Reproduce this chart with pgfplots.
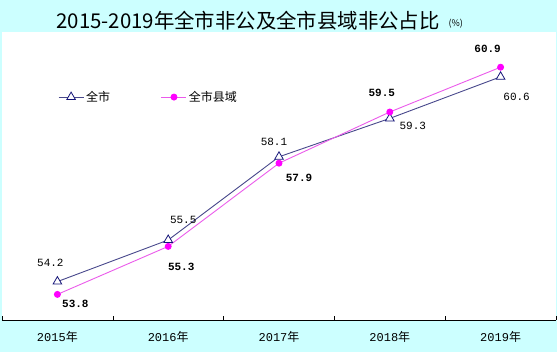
\documentclass[border=0pt]{standalone}
\usepackage{pgfplots}
\pgfplotsset{compat=1.18}
\usepackage{fontspec}
\setmainfont{Noto Sans CJK SC}
\newfontfamily\cjk{Noto Sans CJK SC}
\newfontfamily\mono{Liberation Mono}
\definecolor{bgcyan}{RGB}{204,255,255}
\definecolor{navyline}{RGB}{72,72,140}
\definecolor{navymark}{RGB}{20,20,120}
\definecolor{pinkline}{RGB}{235,90,235}
\definecolor{pinkmark}{RGB}{255,0,255}
\begin{document}
\begin{tikzpicture}
\fill[bgcyan] (0,0) rectangle (557bp,352bp);
\node[anchor=west,font=\fontsize{20.4bp}{24bp}\selectfont] at (53bp,331bp) {2015-2019年全市非公及全市县域非公占比};
\node[anchor=west,font=\fontsize{9bp}{11bp}\selectfont] at (445bp,328bp) {(\%)};
\begin{axis}[
  at={(2bp,32bp)}, anchor=south west,
  scale only axis, width=554bp, height=288bp,
  xmin=-0.5, xmax=4.5, ymin=53, ymax=62,
  axis x line=bottom, axis y line=none,
  axis line style={-, black, line width=0.6pt},
  axis background/.style={fill=white},
  xtick={0,1,2,3,4},
  xticklabels={{\mono 2015}年,{\mono 2016}年,{\mono 2017}年,{\mono 2018}年,{\mono 2019}年},
  major tick length=0pt,
  minor xtick={-0.5,0.5,1.5,2.5,3.5,4.5},
  minor tick length=4bp,
  tick align=inside,
  tick style={black, line width=0.6pt},
  xticklabel style={font=\fontsize{12bp}{14bp}\selectfont, yshift=-8bp},
  clip=false,
  legend style={at={(0.101,0.774)}, anchor=west, draw=none, fill=none, inner sep=0pt,
    font=\fontsize{12bp}{14bp}\selectfont,
    /tikz/every even column/.append style={column sep=49bp}},
  legend columns=2,
  legend image code/.code={\draw[mark repeat=2,mark phase=2,#1] plot coordinates {(0bp,0bp)(12.5bp,0bp)(25bp,0bp)};},
]
\addplot[navyline, line width=0.9pt, mark=triangle*, mark size=5bp,
  mark options={fill=white, draw=navymark, line width=0.8pt}]
  coordinates {(0,54.2) (1,55.5) (2,58.1) (3,59.3) (4,60.6)};
\addlegendentry{全市}
\addplot[pinkline, line width=0.9pt, mark=*, mark size=3bp,
  mark options={fill=pinkmark, draw=pinkmark}]
  coordinates {(0,53.8) (1,55.3) (2,57.9) (3,59.5) (4,60.9)};
\addlegendentry{全市县域}
% labels for 全市
\begin{scope}[every node/.style={font=\mono\fontsize{11bp}{13bp}\selectfont, anchor=center}]
\node at (axis cs:0,54.2) [xshift=-7bp, yshift=19bp] {54.2};
\node at (axis cs:1,55.5) [xshift=15bp, yshift=20bp] {55.5};
\node at (axis cs:2,58.1) [xshift=-5bp, yshift=15bp] {58.1};
\node at (axis cs:3,59.3) [xshift=23bp, yshift=-7bp] {59.3};
\node at (axis cs:4,60.6) [xshift=16bp, yshift=-20bp] {60.6};
\end{scope}
\begin{scope}[every node/.style={font=\mono\bfseries\fontsize{11bp}{13bp}\selectfont, anchor=center}]
\node at (axis cs:0,53.8) [xshift=18bp, yshift=-9bp] {53.8};
\node at (axis cs:1,55.3) [xshift=13bp, yshift=-20bp] {55.3};
\node at (axis cs:2,57.9) [xshift=20bp, yshift=-15bp] {57.9};
\node at (axis cs:3,59.5) [xshift=-8bp, yshift=19bp] {59.5};
\node at (axis cs:4,60.9) [xshift=-13bp, yshift=18bp] {60.9};
\end{scope}
\end{axis}
\end{tikzpicture}
\end{document}
